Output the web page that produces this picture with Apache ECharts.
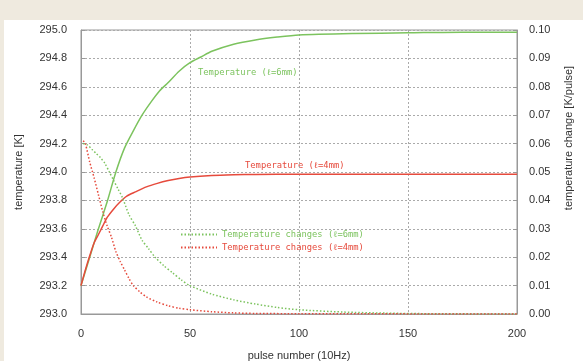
<!DOCTYPE html>
<html>
<head>
<meta charset="utf-8">
<script src="https://cdn.jsdelivr.net/npm/echarts@6/dist/echarts.min.js"></script>
<style>
  html, body { margin: 0; padding: 0; background: #efeadf; }
  .paper { position: absolute; left: 4px; top: 20px; right: 0; bottom: 0; background: #fff; }
  #chart { position: absolute; left: 0; top: 0; width: 583px; height: 361px; }
</style>
</head>
<body>
<div class="paper"></div>
<div id="chart"></div>
<script>
// temperature, l=6mm
const pulse6 = [0, 4, 8, 12, 16, 20, 24, 28, 32, 36, 40, 45, 50, 55, 60, 70, 80, 90, 100, 125, 150, 175, 200];
const temp6 = [293.20, 293.40, 293.60, 293.79, 294.00, 294.17, 294.29, 294.40, 294.49, 294.57, 294.63, 294.71, 294.77, 294.81, 294.85, 294.90, 294.93, 294.95, 294.965, 294.975, 294.98, 294.985, 294.985];

// temperature, l=4mm
const pulse4 = [0, 2, 4, 6, 8, 10, 12, 15, 18, 21, 25, 30, 35, 40, 45, 50, 60, 70, 80, 100, 150, 200];
const temp4 = [293.20, 293.31, 293.41, 293.50, 293.56, 293.62, 293.68, 293.74, 293.79, 293.83, 293.86, 293.895, 293.92, 293.94, 293.955, 293.965, 293.975, 293.98, 293.983, 293.985, 293.985, 293.985];

// temperature change per pulse, l=6mm
const pulseC6 = [1, 3, 5, 7, 9, 11, 13, 15, 17, 19, 22, 25, 28, 31, 34, 38, 42, 46, 50, 60, 70, 80, 90, 100, 120, 140, 160, 200];
const change6 = [0.060, 0.0595, 0.058, 0.0565, 0.055, 0.053, 0.050, 0.047, 0.044, 0.041, 0.035, 0.031, 0.026, 0.023, 0.020, 0.017, 0.0145, 0.012, 0.010, 0.007, 0.005, 0.0035, 0.0023, 0.0015, 0.0007, 0.0003, 0.0001, 0];

// temperature change per pulse, l=4mm
const pulseC4 = [1, 2, 4, 6, 8, 10, 12, 14, 16, 18, 20, 22, 24, 27, 30, 35, 40, 45, 50, 60, 70, 80, 100, 200];
const change4 = [0.061, 0.060, 0.0535, 0.048, 0.042, 0.036, 0.031, 0.027, 0.022, 0.0185, 0.0155, 0.0125, 0.010, 0.0078, 0.006, 0.0042, 0.0029, 0.002, 0.0015, 0.0008, 0.0004, 0.0002, 0.0001, 0];

const GREEN = '#7cc35e';
const RED = '#e64a3c';
const pairs = (xs, ys) => xs.map((x, i) => [x, ys[i]]);

const chart = echarts.init(document.getElementById('chart'));

const sans = 'Liberation Sans, Arial, sans-serif';
const tickFont = { color: '#333', fontSize: 11, fontFamily: sans };
const noteFont = 'DejaVu Sans Mono, monospace';

function curve(name, xs, ys, color, axis, dotted) {
  return {
    name: name,
    type: 'line',
    yAxisIndex: axis,
    symbol: 'none',
    smooth: 0.25,
    data: pairs(xs, ys),
    lineStyle: { color: color, width: 1.5, type: dotted ? [1.5, 2] : 'solid' },
    itemStyle: { color: color }
  };
}

chart.setOption({
  animation: false,
  backgroundColor: 'transparent',
  grid: { left: 81, right: 66, top: 30, bottom: 47, outerBoundsMode: 'none', show: true, borderColor: '#999', borderWidth: 1 },
  legend: {
    orient: 'vertical',
    left: 180,
    top: 230,
    itemWidth: 36,
    itemHeight: 6,
    itemGap: 4,
    padding: 0,
    itemStyle: { opacity: 0 },
    textStyle: { fontFamily: noteFont, fontSize: 8.8 },
    data: [
      { name: 'Temperature changes (ℓ=6mm)', textStyle: { color: GREEN } },
      { name: 'Temperature changes (ℓ=4mm)', textStyle: { color: RED } }
    ]
  },
  xAxis: {
    type: 'value',
    min: 0,
    max: 200,
    interval: 50,
    name: 'pulse number (10Hz)',
    nameLocation: 'middle',
    nameGap: 36,
    nameTextStyle: { color: '#333', fontSize: 11, fontFamily: sans },
    axisLine: { lineStyle: { color: '#999' } },
    axisTick: { show: false },
    axisLabel: Object.assign({ margin: 14 }, tickFont),
    splitLine: { lineStyle: { color: '#aaa', type: [2, 2] } }
  },
  yAxis: [
    {
      type: 'value',
      min: 293,
      max: 295,
      interval: 0.2,
      name: 'temperature [K]',
      nameLocation: 'middle',
      nameGap: 57,
      nameTextStyle: { color: '#333', fontSize: 11, fontFamily: sans },
      axisLine: { lineStyle: { color: '#999' } },
      axisTick: { show: true, inside: true, length: 4, lineStyle: { color: '#999' } },
      axisLabel: Object.assign({ margin: 14, formatter: v => v.toFixed(1) }, tickFont),
      splitLine: { lineStyle: { color: '#aaa', type: [2, 2] } }
    },
    {
      type: 'value',
      min: 0,
      max: 0.1,
      interval: 0.01,
      axisLine: { lineStyle: { color: '#999' } },
      axisTick: { show: true, inside: true, length: 4, lineStyle: { color: '#999' } },
      axisLabel: Object.assign({ margin: 12, formatter: v => v.toFixed(2) }, tickFont),
      splitLine: { show: false }
    }
  ],
  graphic: [
    { type: 'text', left: 198, top: 68, style: { text: 'Temperature (ℓ=6mm)', fill: GREEN, font: '8.8px ' + noteFont } },
    { type: 'text', left: 245, top: 161, style: { text: 'Temperature (ℓ=4mm)', fill: RED, font: '8.8px ' + noteFont } },
    {
      type: 'text', x: 569, y: 138, rotation: Math.PI / 2,
      style: { text: 'temperature change [K/pulse]', fill: '#333', font: '11px ' + sans, align: 'center', verticalAlign: 'middle' }
    }
  ],
  series: [
    curve('Temperature (ℓ=6mm)', pulse6, temp6, GREEN, 0, false),
    curve('Temperature (ℓ=4mm)', pulse4, temp4, RED, 0, false),
    curve('Temperature changes (ℓ=6mm)', pulseC6, change6, GREEN, 1, true),
    curve('Temperature changes (ℓ=4mm)', pulseC4, change4, RED, 1, true)
  ]
});

window.addEventListener('resize', () => chart.resize());
</script>
</body>
</html>
